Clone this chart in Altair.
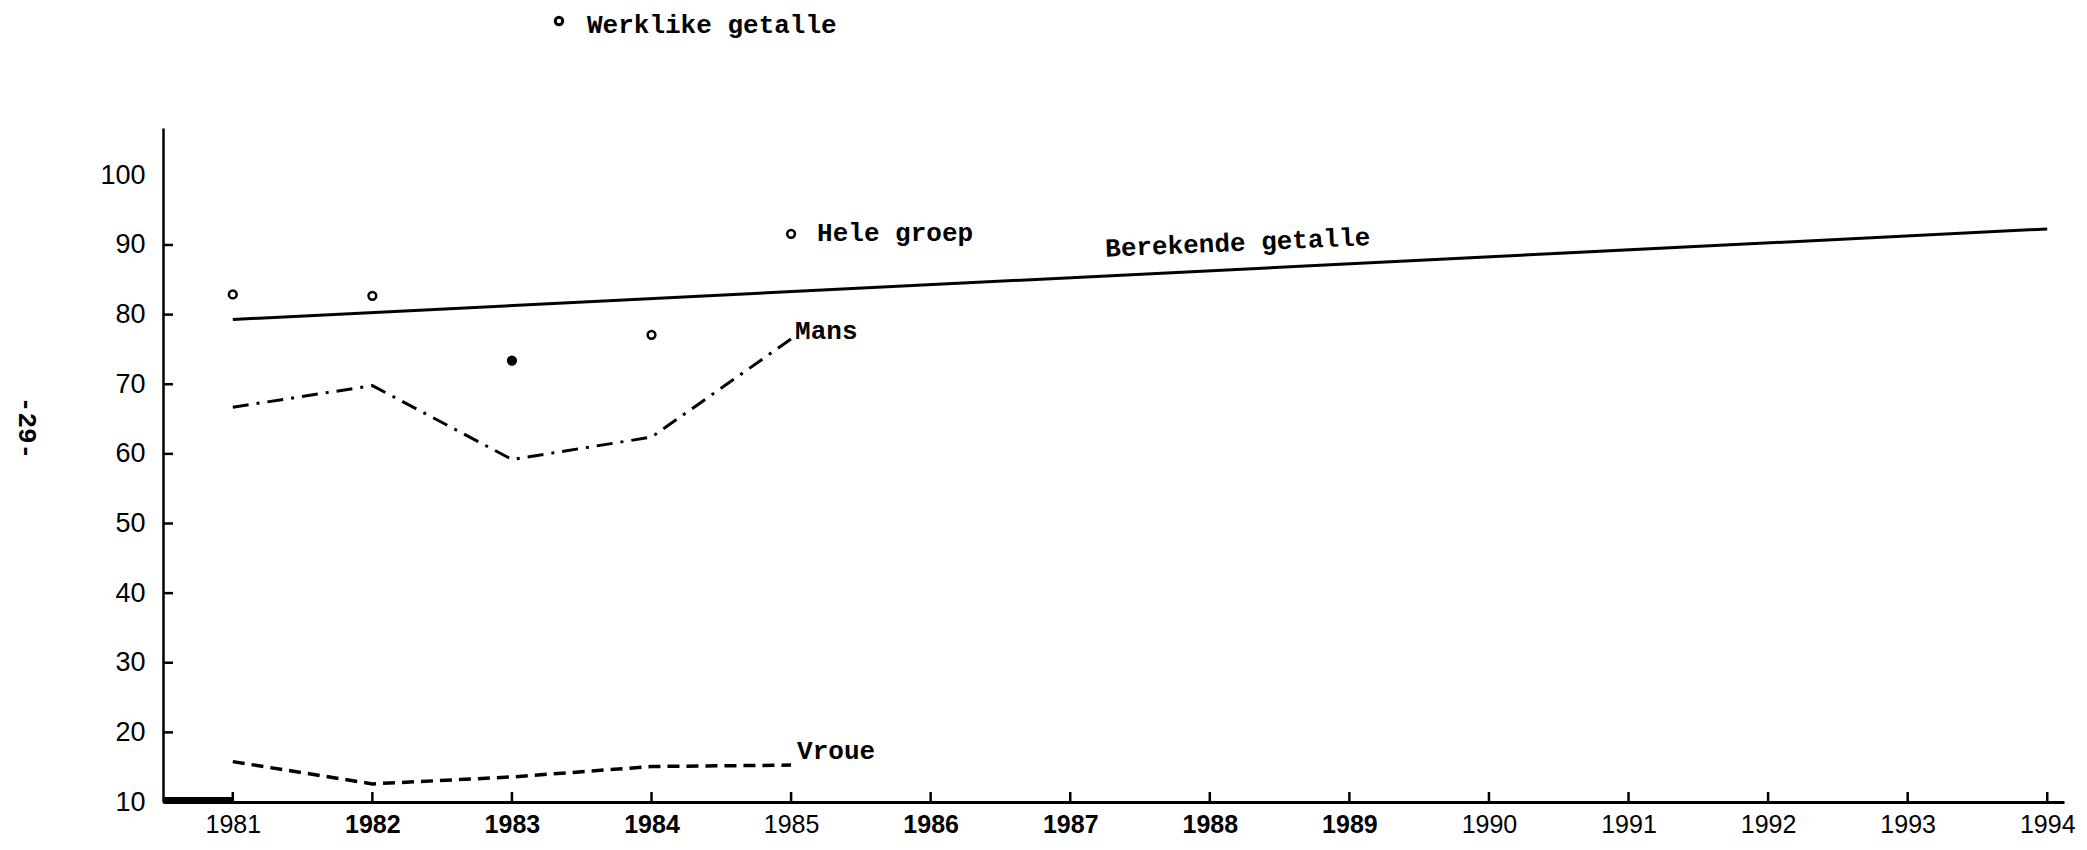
import altair as alt
import pandas as pd

# ---- data ----
years = [1981, 1982, 1983, 1984, 1985]
hele_groep = [82.9, 82.7, 73.4, 77.1, 91.6]     # Werklike getalle (points)
mans = [66.7, 69.8, 59.2, 62.4, 76.5]
vroue = [15.8, 12.6, 13.6, 15.1, 15.3]
berekende_years = [1981, 1994]
berekende = [79.3, 92.3]                         # Berekende getalle (solid line)

axis_years = list(range(1981, 1995))
y_label_values = [10, 20, 30, 40, 50, 60, 70, 80, 90, 100]
y_tick_values = [20, 30, 40, 50, 60, 70, 80, 90]
bold_years = [1982, 1983, 1984, 1986, 1987, 1988, 1989]
berekende_label = ["Berekende getalle"]
berekende_label_pos = [1988.2, 90.3]

W, H = 1901, 674
MONO = "Liberation Mono"
SANS = "Liberation Sans"

x_scale = alt.Scale(domain=[1980.5, 1994.12], nice=False, zero=False)
y_scale = alt.Scale(domain=[10, 106.8], nice=False, zero=False)

bold_test = "indexof([" + ",".join(str(y) for y in bold_years) + "], datum.value) >= 0"

x_axis = alt.Axis(
    values=axis_years, format="d", title=None, grid=False, ticks=False,
    labelFont=SANS, labelFontSize=25, labelColor="black", labelPadding=10,
    labelFontWeight={"condition": {"test": bold_test, "value": "bold"}, "value": "normal"},
    domainColor="black", domainWidth=3, labelFlush=False,
)
y_axis = alt.Axis(
    values=y_label_values, title=None, grid=False, ticks=False,
    labelFont=SANS, labelFontSize=27, labelColor="black", labelPadding=18,
    domainColor="black", domainWidth=2.5, labelFlush=False,
)

X = alt.X("year:Q", scale=x_scale, axis=x_axis)
Y = alt.Y("v:Q", scale=y_scale, axis=y_axis)

ber_df = pd.DataFrame({"year": berekende_years, "v": berekende})
ber_line = alt.Chart(ber_df).mark_line(color="black", strokeWidth=3).encode(x=X, y=Y)

years_df = pd.DataFrame({"year": axis_years})
xt = alt.Chart(years_df).mark_rule(color="black", strokeWidth=2.5).encode(
    x=X, y=alt.value(H), y2=alt.value(H - 10),
)
# heavy start of the base line (from the y axis to the first year)
x_start = alt.Chart(years_df.head(1)).mark_rule(color="black", strokeWidth=6).encode(
    x=X, x2=alt.value(0), y=alt.value(H - 2),
)
yt = alt.Chart(pd.DataFrame({"v": y_tick_values})).mark_rule(color="black", strokeWidth=2.5).encode(
    y=Y, x=alt.value(0), x2=alt.value(10),
)

mans_df = pd.DataFrame({"year": years, "v": mans})
mans_line = alt.Chart(mans_df).mark_line(color="black", strokeWidth=3, strokeDash=[16, 8, 3, 8]).encode(x=X, y=Y)
vroue_df = pd.DataFrame({"year": years, "v": vroue})
vroue_line = alt.Chart(vroue_df).mark_line(color="black", strokeWidth=3.5, strokeDash=[12, 7]).encode(x=X, y=Y)

hele_df = pd.DataFrame({"year": years, "v": hele_groep})
hele_pts = alt.Chart(hele_df).mark_point(shape="circle", size=60, strokeWidth=2.5, stroke="black", opacity=1).encode(
    x=X, y=Y,
    fill=alt.condition("datum.year == 1983", alt.value("black"), alt.value("white")),
)

def label(df, text, **kw):
    return alt.Chart(df).mark_text(font=MONO, fontSize=26, fontWeight="bold", color="black", **kw).encode(
        x=X, y=Y, text=alt.value(text),
    )

mans_lbl = label(mans_df.tail(1), "Mans", align="left", baseline="alphabetic", dx=4)
vroue_lbl = label(vroue_df.tail(1), "Vroue", align="left", baseline="alphabetic", dx=6, dy=-6)
hele_lbl = label(hele_df.tail(1), "Hele groep", align="left", baseline="middle", dx=26, dy=-1)
ber_lbl = label(pd.DataFrame({"year": [berekende_label_pos[0]], "v": [berekende_label_pos[1]]}),
                berekende_label[0], align="center", baseline="middle", angle=357.5)

top_df = pd.DataFrame({"t": ["Werklike getalle"]})
top_pt = alt.Chart(top_df).mark_point(shape="circle", size=55, strokeWidth=3, stroke="black", fill="white", opacity=1).encode(
    x=alt.value(396), y=alt.value(-107)
)
top_txt = alt.Chart(top_df).mark_text(font=MONO, fontSize=26, fontWeight="bold", color="black",
                                      align="left", baseline="alphabetic").encode(
    x=alt.value(424), y=alt.value(-95), text="t:N"
)
page_df = pd.DataFrame({"t": ["-29-"]})
page_txt = alt.Chart(page_df).mark_text(font=MONO, fontSize=26, fontWeight="bold", color="black",
                                        align="center", baseline="middle", angle=90).encode(
    x=alt.value(-136), y=alt.value(300), text="t:N"
)

chart = alt.layer(
    ber_line, xt, x_start, yt, mans_line, vroue_line, hele_pts,
    mans_lbl, vroue_lbl, hele_lbl, ber_lbl, top_pt, top_txt, page_txt,
).properties(
    width=W, height=H,
    autosize=alt.AutoSizeParams(type="none"),
    padding={"left": 155, "top": 120, "right": 15, "bottom": 40},
    background="white",
).configure_view(stroke=None)

chart.save("out.html", embed_options={"renderer": "svg", "actions": False})
